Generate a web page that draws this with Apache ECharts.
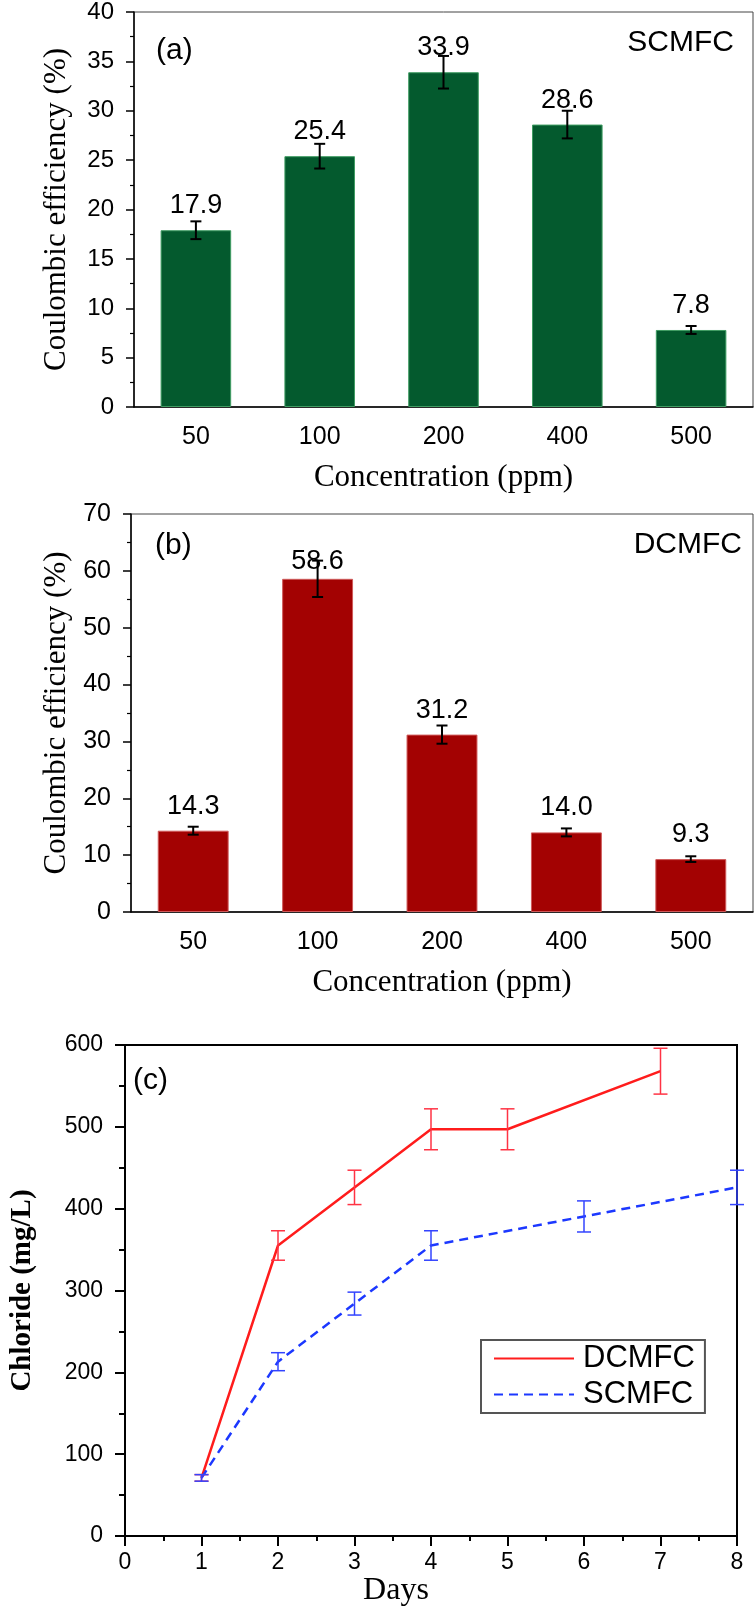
<!DOCTYPE html>
<html>
<head>
<meta charset="utf-8">
<script src="https://cdn.jsdelivr.net/npm/echarts@6/dist/echarts.min.js"></script>
<style>
  html, body { margin: 0; padding: 0; background: #fff; }
  #chart { width: 756px; height: 1608px; }
</style>
</head>
<body>
<div id="chart"></div>
<script>
// ---------- data ----------
const concCategories = ['50', '100', '200', '400', '500'];
const scmfcCE = [17.9, 25.4, 33.9, 28.6, 7.8];
const scmfcCEErr = [0.9, 1.25, 1.65, 1.4, 0.4];
const dcmfcCE = [14.3, 58.6, 31.2, 14.0, 9.3];
const dcmfcCEErr = [0.7, 3.2, 1.6, 0.7, 0.5];

const dcmfcDays = [1, 2, 3, 4, 5, 7];
const dcmfcChloride = [71, 355, 426, 497, 497, 568];
const dcmfcChlorideErr = [4, 18, 21, 25, 25, 28];
const scmfcDays = [1, 2, 3, 4, 6, 8];
const scmfcChloride = [71, 213, 284, 355, 390.5, 426];
const scmfcChlorideErr = [4, 11, 14, 18, 19, 21];

// ---------- helpers ----------
const SANS = 'Liberation Sans, Arial, sans-serif';
const SERIF = 'Liberation Serif, Times New Roman, serif';

function errData(xs, vals, errs) {
  return vals.map((v, i) => [xs[i], v - errs[i], v + errs[i]]);
}
function errRender(halfCap, color, width) {
  return function (params, api) {
    const x = api.value(0);
    const lo = api.coord([x, api.value(1)]);
    const hi = api.coord([x, api.value(2)]);
    const style = { stroke: color, lineWidth: width, fill: null };
    return {
      type: 'group',
      children: [
        { type: 'line', shape: { x1: hi[0], y1: hi[1], x2: lo[0], y2: lo[1] }, style },
        { type: 'line', shape: { x1: hi[0] - halfCap, y1: hi[1], x2: hi[0] + halfCap, y2: hi[1] }, style },
        { type: 'line', shape: { x1: lo[0] - halfCap, y1: lo[1], x2: lo[0] + halfCap, y2: lo[1] }, style }
      ]
    };
  };
}
function barAxisX(idx) {
  return {
    type: 'category', gridIndex: idx, data: concCategories,
    axisLine: { lineStyle: { color: '#000', width: 1.5 } },
    axisTick: { show: false },
    axisLabel: { color: '#000', fontFamily: SANS, fontSize: 25, margin: 18 },
    name: 'Concentration (ppm)', nameLocation: 'middle', nameGap: 55,
    nameTextStyle: { color: '#000', fontFamily: SERIF, fontSize: 31 }
  };
}
function barAxisY(idx, max, interval, labelSize, gap) {
  return {
    type: 'value', gridIndex: idx, min: 0, max: max, interval: interval,
    axisLine: { show: true, lineStyle: { color: '#000', width: 1.5 } },
    axisTick: { show: true, length: 8, lineStyle: { color: '#000', width: 1.5 } },
    minorTick: { show: true, splitNumber: 2, length: 4, lineStyle: { color: '#000', width: 1.2 } },
    splitLine: { show: false },
    axisLabel: { color: '#000', fontFamily: SANS, fontSize: labelSize, margin: 20 },
    name: 'Coulombic efficiency (%)', nameLocation: 'middle', nameGap: gap,
    nameTextStyle: { color: '#000', fontFamily: SERIF, fontSize: 31 }
  };
}
function txt(text, x, y, size, align) {
  return {
    type: 'text', z: 100,
    style: {
      text: text, x: x, y: y, fill: '#000',
      font: size + 'px ' + SANS,
      textAlign: align, textVerticalAlign: 'middle',
      align: align, verticalAlign: 'middle'
    }
  };
}

const scmfcBarData = scmfcCE.map(v => ({ value: v }));
const dcmfcBarData = dcmfcCE.map((v, i) => (i === 1 ? { value: v, label: { distance: 4 } } : { value: v }));

const option = {
  animation: false,
  backgroundColor: '#fff',
  grid: [
    { left: 134, top: 12, width: 619, height: 395, show: true, borderColor: '#444', borderWidth: 1 },
    { left: 131, top: 514, width: 622, height: 398, show: true, borderColor: '#444', borderWidth: 1 },
    { left: 113, top: 1045, width: 624, height: 495, show: true, borderColor: '#000', borderWidth: 2 }
  ],
  xAxis: [
    barAxisX(0),
    barAxisX(1),
    {
      type: 'value', gridIndex: 2, min: 0, max: 8, interval: 1,
      axisLine: { lineStyle: { color: '#000', width: 2 } },
      axisTick: { length: 10, lineStyle: { color: '#000', width: 2 } },
      minorTick: { show: true, splitNumber: 2, length: 5, lineStyle: { color: '#000', width: 2 } },
      splitLine: { show: false },
      axisLabel: { color: '#000', fontFamily: SANS, fontSize: 23, margin: 15 },
      name: 'Days', nameLocation: 'middle', nameGap: 39,
      nameTextStyle: { color: '#000', fontFamily: SERIF, fontSize: 32, padding: [0, 70, 0, 0] }
    }
  ],
  yAxis: [
    barAxisY(0, 40, 5, 24, 62),
    barAxisY(1, 70, 10, 25, 59),
    {
      type: 'value', gridIndex: 2, min: 0, max: 600, interval: 100,
      axisLine: { lineStyle: { color: '#000', width: 2 } },
      axisTick: { length: 10, lineStyle: { color: '#000', width: 2 } },
      minorTick: { show: true, splitNumber: 2, length: 6, lineStyle: { color: '#000', width: 2 } },
      splitLine: { show: false },
      axisLabel: { color: '#000', fontFamily: SANS, fontSize: 23, margin: 22 },
      name: 'Chloride (mg/L)', nameLocation: 'middle', nameGap: 88,
      nameTextStyle: { color: '#000', fontFamily: SERIF, fontSize: 29, fontWeight: 'bold' }
    }
  ],
  legend: {
    data: ['DCMFC', 'SCMFC'],
    orient: 'vertical', left: 481, top: 1340,
    backgroundColor: '#fff',
    borderColor: '#555', borderWidth: 2, borderRadius: 0,
    padding: [3, 10, 3, 12], itemGap: 5,
    itemWidth: 80, itemHeight: 14,
    itemStyle: { opacity: 0 },
    textStyle: { color: '#000', fontFamily: SANS, fontSize: 31, padding: [0, 0, 0, 4] }
  },
  graphic: [
    txt('(a)', 156, 51, 30, 'left'),
    txt('SCMFC', 734, 43, 30, 'right'),
    txt('(b)', 155, 546, 30, 'left'),
    txt('DCMFC', 742, 545, 30, 'right'),
    txt('(c)', 133, 1081, 30, 'left')
  ],
  series: [
    {
      type: 'bar', xAxisIndex: 0, yAxisIndex: 0, data: scmfcBarData, barWidth: '57%', z: 2,
      itemStyle: { color: '#045a2e', borderColor: '#3f9c62', borderWidth: 1 },
      label: { show: true, position: 'top', distance: 11, color: '#000', fontFamily: SANS, fontSize: 27,
        formatter: p => p.value.toFixed(1) }
    },
    {
      type: 'custom', xAxisIndex: 0, yAxisIndex: 0, z: 5,
      data: errData(concCategories.map((c, i) => i), scmfcCE, scmfcCEErr),
      renderItem: errRender(5.5, '#000', 2), silent: true
    },
    {
      type: 'bar', xAxisIndex: 1, yAxisIndex: 1, data: dcmfcBarData, barWidth: '57%', z: 2,
      itemStyle: { color: '#a30202', borderColor: '#cf5a5a', borderWidth: 1 },
      label: { show: true, position: 'top', distance: 11, color: '#000', fontFamily: SANS, fontSize: 27,
        formatter: p => p.value.toFixed(1) }
    },
    {
      type: 'custom', xAxisIndex: 1, yAxisIndex: 1, z: 5,
      data: errData(concCategories.map((c, i) => i), dcmfcCE, dcmfcCEErr),
      renderItem: errRender(5.5, '#000', 2), silent: true
    },
    {
      name: 'DCMFC', type: 'line', xAxisIndex: 2, yAxisIndex: 2,
      data: dcmfcDays.map((d, i) => [d, dcmfcChloride[i]]),
      symbol: 'none', color: '#ff1c1c',
      lineStyle: { color: '#ff1c1c', width: 2.5, type: 'solid' }, z: 3
    },
    {
      name: 'SCMFC', type: 'line', xAxisIndex: 2, yAxisIndex: 2,
      data: scmfcDays.map((d, i) => [d, scmfcChloride[i]]),
      symbol: 'none', color: '#1c38ff',
      lineStyle: { color: '#1c38ff', width: 2.5, type: [9, 6] }, z: 3
    },
    {
      type: 'custom', xAxisIndex: 2, yAxisIndex: 2, z: 4,
      data: errData(dcmfcDays, dcmfcChloride, dcmfcChlorideErr),
      renderItem: errRender(7, '#ff3344', 1.5), silent: true
    },
    {
      type: 'custom', xAxisIndex: 2, yAxisIndex: 2, z: 4,
      data: errData(scmfcDays, scmfcChloride, scmfcChlorideErr),
      renderItem: errRender(7, '#3344ff', 1.5), silent: true
    }
  ]
};

const chart = echarts.init(document.getElementById('chart'), null, { renderer: 'canvas', width: 756, height: 1608 });
chart.setOption(option);
</script>
</body>
</html>
